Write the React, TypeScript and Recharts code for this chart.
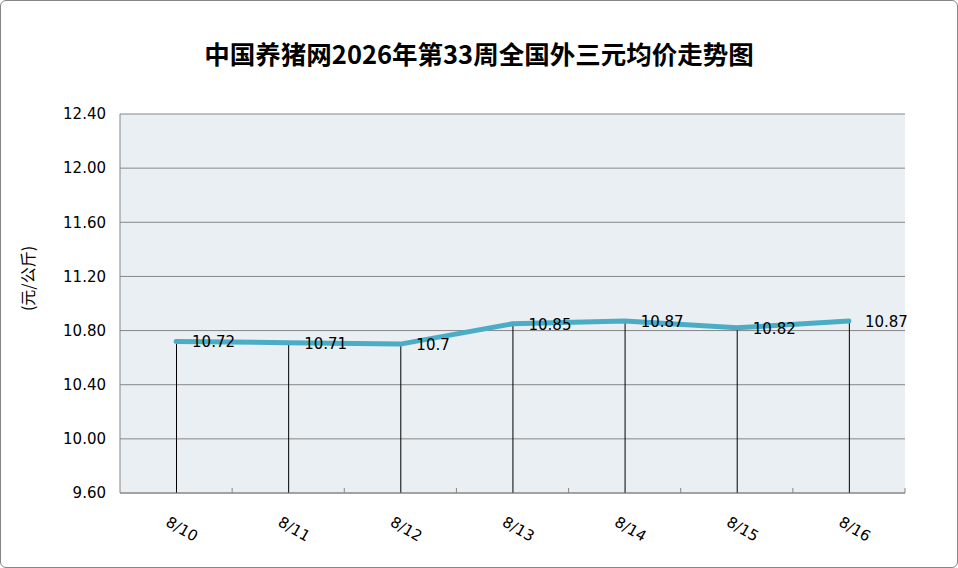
import { ComposedChart, Line, Bar, XAxis, YAxis, CartesianGrid, LabelList } from 'recharts';

const dates = ['8/10', '8/11', '8/12', '8/13', '8/14', '8/15', '8/16'];
const prices = [10.72, 10.71, 10.7, 10.85, 10.87, 10.82, 10.87];
const yTicks = [9.6, 10.0, 10.4, 10.8, 11.2, 11.6, 12.0, 12.4];

const data = dates.map((date, i) => ({ date, price: prices[i] }));

const FONT = '"DejaVu Sans", sans-serif';
const CJK = '"Noto Sans CJK SC", sans-serif';

// category label below the axis, plus the short tick at the right edge of each band
function DateTick(props: any) {
  const { x, y, payload } = props;
  const half = payload && payload.offset ? payload.offset : 56;
  return (
    <g>
      <line x1={x + half} x2={x + half} y1={y} y2={y - 5} stroke="#868686" />
      <text
        x={x + 6}
        y={y + 36}
        dy="0.35em"
        textAnchor="middle"
        fontSize={15}
        fontFamily={FONT}
        fill="#000"
        transform={`rotate(30, ${x + 6}, ${y + 36})`}
      >
        {payload.value}
      </text>
    </g>
  );
}

function ValueLabel(props: any) {
  const x = props.x ?? props.viewBox?.x;
  const y = props.y ?? props.viewBox?.y;
  return (
    <text x={x + 16} y={y} dy={6} fontSize={15} fontFamily={FONT} fill="#000">
      {props.value}
    </text>
  );
}

function UnitLabel(props: any) {
  const vb = props.viewBox || { x: 0, y: 0, height: 0 };
  const cx = vb.x + 28;
  const cy = vb.y + vb.height / 2 - 25;
  return (
    <text
      x={cx}
      y={cy}
      dy="0.35em"
      textAnchor="middle"
      fontSize={16}
      fontFamily={CJK}
      fill="#000"
      transform={`rotate(-90, ${cx}, ${cy})`}
    >
      (元/公斤)
    </text>
  );
}

export default function App() {
  return (
    <div style={{ position: 'absolute', left: 0, top: 0, width: 958, height: 568, background: '#fff' }}>
      <div
        style={{
          position: 'absolute',
          left: 0,
          top: 40,
          width: 958,
          textAlign: 'center',
          fontFamily: CJK,
          fontWeight: 'bold',
          fontSize: 25.5,
          lineHeight: '26px',
          color: '#000',
        }}
      >
        中国养猪网2026年第33周全国外三元均价走势图
      </div>
      <ComposedChart
        width={958}
        height={568}
        data={data}
        margin={{ top: 114, right: 53, bottom: 0, left: 0 }}
        style={{ position: 'absolute', left: 0, top: 0 }}
      >
        <CartesianGrid vertical={false} stroke="#878787" fill="#E9EFF3" fillOpacity={1} />
        <XAxis
          dataKey="date"
          height={75}
          axisLine={{ stroke: '#868686' }}
          tickLine={false}
          tickSize={0}
          tickMargin={0}
          interval={0}
          tick={<DateTick />}
        />
        <YAxis
          width={120}
          domain={[9.6, 12.4]}
          ticks={yTicks}
          interval={0}
          allowDataOverflow
          axisLine={{ stroke: '#868686' }}
          tickLine={false}
          tickSize={0}
          tickMargin={14}
          tick={{ fontSize: 15, fontFamily: FONT, fill: '#000' }}
          tickFormatter={(v: number) => v.toFixed(2)}
          label={{ content: <UnitLabel /> }}
        />
        <Bar dataKey="price" barSize={1} fill="#000" isAnimationActive={false} />
        <Line
          type="linear"
          dataKey="price"
          stroke="#4BACC6"
          strokeWidth={5}
          strokeLinecap="round"
          dot={false}
          activeDot={false}
          isAnimationActive={false}
        >
          <LabelList dataKey="price" content={<ValueLabel />} />
        </Line>
      </ComposedChart>
      <div
        style={{
          position: 'absolute',
          left: 0,
          top: 0,
          width: 958,
          height: 568,
          boxSizing: 'border-box',
          border: '1px solid #868686',
          borderRadius: 6,
          pointerEvents: 'none',
        }}
      />
    </div>
  );
}
